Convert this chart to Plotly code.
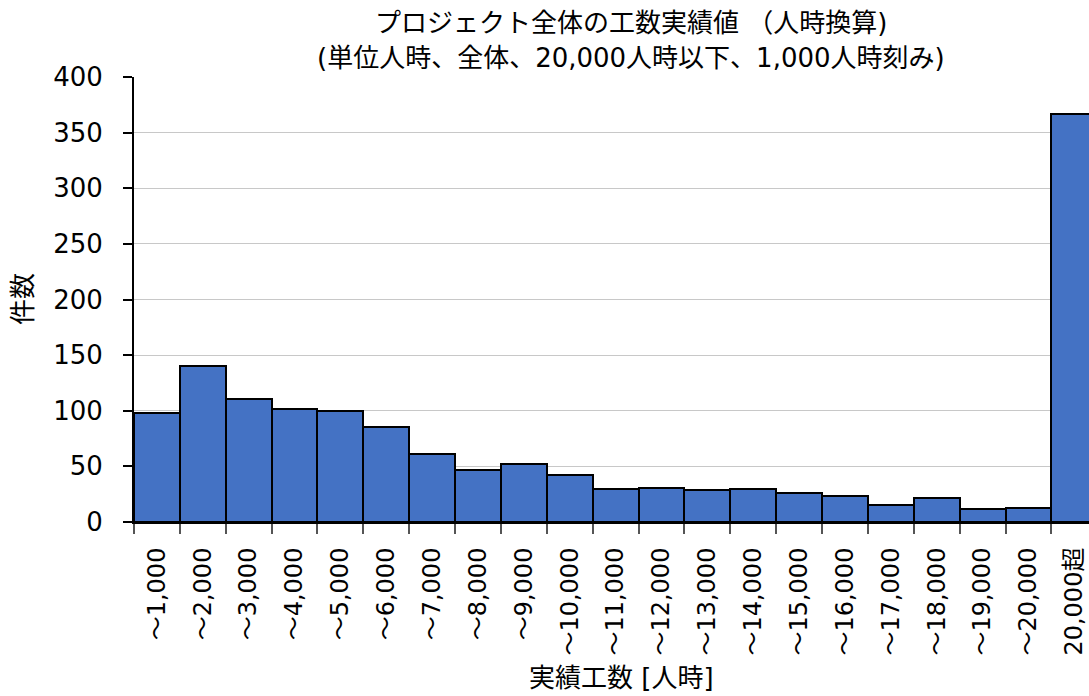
import plotly.graph_objects as go

categories = ["～1,000", "～2,000", "～3,000", "～4,000", "～5,000", "～6,000", "～7,000",
              "～8,000", "～9,000", "～10,000", "～11,000", "～12,000", "～13,000", "～14,000",
              "～15,000", "～16,000", "～17,000", "～18,000", "～19,000", "～20,000", "20,000超"]
counts = [98, 140, 111, 102, 100, 85, 61, 47, 52, 42, 30, 31, 29, 30, 26, 23, 15, 22, 12, 13, 367]
y_ticks = [0, 50, 100, 150, 200, 250, 300, 350, 400]
title_lines = ["プロジェクト全体の工数実績値 （人時換算)",
               "(単位人時、全体、20,000人時以下、1,000人時刻み)"]
x_title = "実績工数 [人時]"
y_title = "件数"

FONT = "DejaVu Sans, Verdana, 'Noto Sans CJK JP', sans-serif"
W, H = 1089, 696
L, T, B = 134, 77, 174
PW, PH = W - L, H - T - B

fig = go.Figure(go.Bar(
    x=categories, y=counts,
    marker=dict(color="#4472C4", line=dict(color="black", width=2)),
))

fig.update_layout(
    width=W, height=H,
    margin=dict(l=L, r=0, t=T, b=B, autoexpand=False),
    paper_bgcolor="white", plot_bgcolor="white",
    bargap=0,
    showlegend=False,
    font=dict(family=FONT, size=26, color="black"),
)

def px_x(px):
    return (px - L) / PW

def px_y(py):
    return (H - B - py) / PH

for i, line in enumerate(title_lines):
    fig.add_annotation(
        text=line, xref="paper", yref="paper",
        x=px_x(631), y=px_y(23 + 35 * i),
        xanchor="center", yanchor="middle", showarrow=False,
        font=dict(family=FONT, size=26, color="black"),
    )

fig.add_annotation(
    text=x_title, xref="paper", yref="paper",
    x=px_x(621), y=px_y(678), xanchor="center", yanchor="middle",
    showarrow=False, font=dict(family=FONT, size=26, color="black"),
)
fig.add_annotation(
    text=y_title, xref="paper", yref="paper",
    x=px_x(23), y=px_y(299), xanchor="center", yanchor="middle",
    textangle=-90, showarrow=False, font=dict(family=FONT, size=26, color="black"),
)

fig.update_xaxes(
    type="category",
    range=[-0.5, 20.32],
    tickson="boundaries",
    ticks="outside", ticklen=10, tickcolor="#555555", tickwidth=2,
    tickangle=-90,
    showgrid=False,
    showline=True, linecolor="black", linewidth=2,
    tickfont=dict(family=FONT, size=24),
    ticklabelstandoff=14,
    automargin=False,
)

fig.update_yaxes(
    range=[0, 400],
    tickvals=y_ticks,
    ticks="outside", ticklen=9, tickcolor="black", tickwidth=2,
    showgrid=True, gridcolor="#c8c8c8", gridwidth=1,
    showline=True, linecolor="black", linewidth=2,
    zeroline=False,
    tickfont=dict(family=FONT, size=26),
    ticklabelstandoff=15,
    automargin=False,
)

fig.write_html("out.html", config={"displayModeBar": False},
               post_script="document.body.style.margin='0';")
